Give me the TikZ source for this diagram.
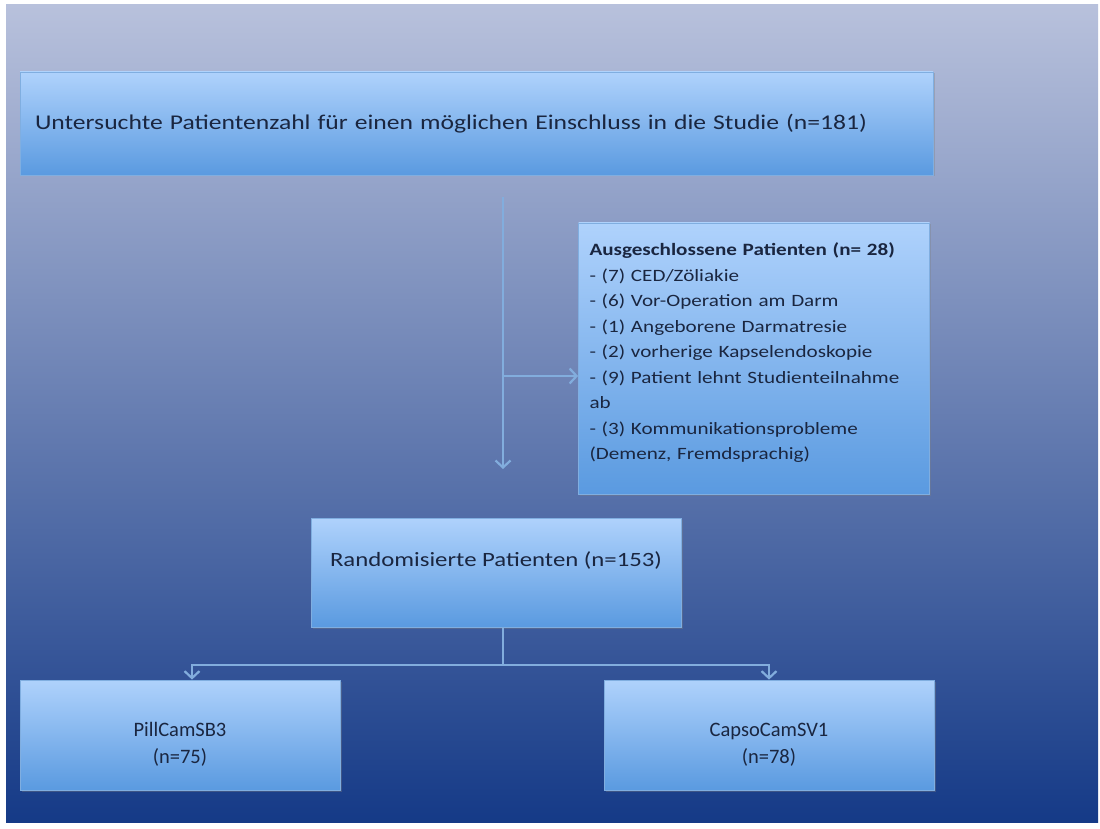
\documentclass[tikz,border=0pt]{standalone}
\usepackage{fontspec}
\setmainfont{Carlito}
\newfontfamily\widefont[FakeStretch=1.22]{Carlito}
\usetikzlibrary{arrows.meta,shadows,positioning}

\definecolor{bgtop}{HTML}{B8C1DC}
\definecolor{bgmid}{HTML}{6E82B7}
\definecolor{bgbot}{HTML}{153A87}
\definecolor{boxtop}{HTML}{AFD2FC}
\definecolor{boxbot}{HTML}{5A9AE0}
\definecolor{boxline}{HTML}{80AEE0}
\definecolor{linkblue}{HTML}{82ADDD}
\definecolor{inktext}{HTML}{1A2640}

\tikzset{
  flowbox/.style={draw=boxline, line width=0.8pt, top color=boxtop, bottom color=boxbot,
    text=inktext, inner sep=0pt,
    drop shadow={opacity=0.35, shadow xshift=1.5pt, shadow yshift=-1.5pt}},
  link/.style={draw=linkblue, line width=2.2pt},
  linkarrow/.style={link, -{Straight Barb[length=7pt, width=15pt]}}
}

\begin{document}
\begin{tikzpicture}[x=1pt, y=-1pt]
    % Background
    \fill[white] (0,0) rectangle (1100,829);
    \shade[top color=bgtop, middle color=bgmid, bottom color=bgbot] (6,5) rectangle (1098,822);

    % Screening
    \node[flowbox, minimum height=103pt, text width=883pt, inner xsep=15pt, align=left,
          font=\widefont\fontsize{21}{24}\selectfont] (screen) at (476.5,123.5)
          {Untersuchte Patientenzahl für einen möglichen Einschluss in die Studie (n=181)};

    % Excluded patients
    \node[flowbox, minimum height=271pt, text width=329pt, inner xsep=11pt, align=left,
          text depth=218pt, font=\widefont\fontsize{17.3}{25.5}\selectfont] (excl) at (754,358.5)
          {\textbf{Ausgeschlossene Patienten (n= 28)}\\
           - (7) CED/Zöliakie\\
           - (6) Vor-Operation am Darm\\
           - (1) Angeborene Darmatresie\\
           - (2) vorherige Kapselendoskopie\\
           - (9) Patient lehnt Studienteilnahme\\
           ab\\
           - (3) Kommunikationsprobleme\\
           (Demenz, Fremdsprachig)};

    % Randomised
    \node[flowbox, minimum width=370pt, minimum height=109pt, text depth=26pt, align=center,
          font=\widefont\fontsize{20.3}{24}\selectfont] (rand) at (496,572.5)
          {Randomisierte Patienten (n=153)};

    % Study arms
    \node[flowbox, minimum width=320pt, minimum height=110pt, text height=60pt, align=center,
          font=\fontsize{20.5}{27}\selectfont] (pill) at (180,735)
          {PillCamSB3\\(n=75)};
    \node[flowbox, minimum width=330pt, minimum height=110pt, text height=60pt, align=center,
          font=\fontsize{20.5}{27}\selectfont] (capso) at (769,735)
          {CapsoCamSV1\\(n=78)};

    % Connectors
    \coordinate (split) at (503,197);
    \coordinate (branch) at (503,376);
    \coordinate (randtop) at (503,469);
    \coordinate (fork) at (503,665);
    \draw[linkarrow] (split) -- (randtop);
    \draw[linkarrow] (branch) -- (branch -| excl.west);
    \draw[link] (fork |- rand.south) -- (fork);
    \draw[linkarrow] (fork) -| ([xshift=12pt]pill.north);
    \draw[linkarrow] (fork) -| (capso.north);
\end{tikzpicture}
\end{document}
